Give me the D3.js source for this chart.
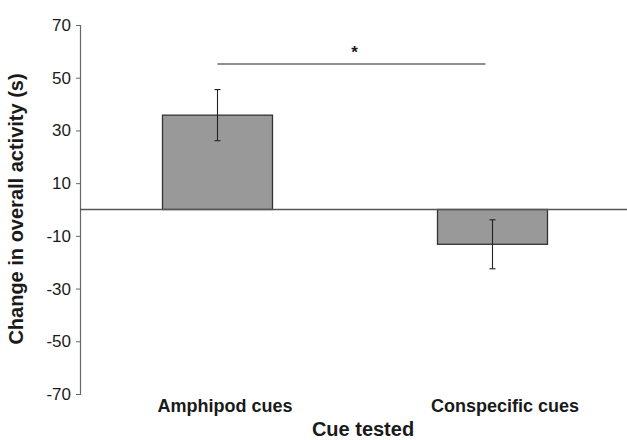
<!DOCTYPE html>
<html>
<head>
<meta charset="utf-8">
<script src="https://cdn.jsdelivr.net/npm/d3@7"></script>
<style>
  body { margin: 0; background: #fff; }
  text { font-family: "Liberation Sans", Arial, sans-serif; fill: #1a1a1a; }
</style>
</head>
<body>
<svg id="chart" width="627" height="440"></svg>
<script>
// data
const categories = ["Amphipod cues", "Conspecific cues"];
const means = [35.8, -13.2];
const errors = [9.7, 9.3];
const yTicks = [70, 50, 30, 10, -10, -30, -50, -70];

const svg = d3.select("#chart");

const x = d3.scaleBand()
  .domain(categories)
  .range([80, 630])
  .paddingInner(0.6)
  .paddingOuter(0.3);

// category labels sit a little right of the bar centres in the original
const xLabel = d3.scalePoint().domain(categories).range([225, 505]);

const y = d3.scaleLinear().domain([-70, 70]).range([394, 25]);

// y axis
const yAxis = svg.append("g")
  .attr("transform", "translate(80,0)")
  .call(d3.axisLeft(y).tickValues(yTicks).tickFormat(d => String(d)).tickSize(4).tickPadding(5));
yAxis.select(".domain").attr("stroke", "#666").attr("stroke-width", 1.2);
yAxis.selectAll(".tick line").attr("stroke", "#666");
yAxis.selectAll(".tick text")
  .style("font-size", "17px")
  .attr("fill", "#1a1a1a");

// bars
svg.selectAll(".bar")
  .data(categories)
  .enter()
  .append("rect")
  .attr("class", "bar")
  .attr("x", d => x(d))
  .attr("width", x.bandwidth())
  .attr("y", (d, i) => y(Math.max(0, means[i])))
  .attr("height", (d, i) => Math.abs(y(means[i]) - y(0)))
  .attr("fill", "#999999")
  .attr("stroke", "#333")
  .attr("stroke-width", 1.3);

// zero line
svg.append("line")
  .attr("x1", 80).attr("x2", 627)
  .attr("y1", y(0)).attr("y2", y(0))
  .attr("stroke", "#555")
  .attr("stroke-width", 1.4);

// error bars
const eb = svg.selectAll(".err")
  .data(categories)
  .enter()
  .append("g")
  .attr("class", "err")
  .attr("stroke", "#222")
  .attr("stroke-width", 1.1);
const cx = d => x(d) + x.bandwidth() / 2;
eb.append("line")
  .attr("x1", cx).attr("x2", cx)
  .attr("y1", (d, i) => y(means[i] + errors[i]))
  .attr("y2", (d, i) => y(means[i] - errors[i]));
eb.append("line")
  .attr("x1", d => cx(d) - 3).attr("x2", d => cx(d) + 3)
  .attr("y1", (d, i) => y(means[i] + errors[i]))
  .attr("y2", (d, i) => y(means[i] + errors[i]));
eb.append("line")
  .attr("x1", d => cx(d) - 3).attr("x2", d => cx(d) + 3)
  .attr("y1", (d, i) => y(means[i] - errors[i]))
  .attr("y2", (d, i) => y(means[i] - errors[i]));

// significance bracket
const sigY = y(55.2);
svg.append("line")
  .attr("x1", cx(categories[0])).attr("x2", cx(categories[1]) - 7)
  .attr("y1", sigY).attr("y2", sigY)
  .attr("stroke", "#222")
  .attr("stroke-width", 1.2);
svg.append("text")
  .attr("x", (cx(categories[0]) + cx(categories[1]) - 7) / 2 + 3)
  .attr("y", sigY - 6)
  .attr("text-anchor", "middle")
  .style("font-size", "17px")
  .style("font-weight", "bold")
  .text("*");

// category labels
svg.selectAll(".cat")
  .data(categories)
  .enter()
  .append("text")
  .attr("class", "cat")
  .attr("x", d => xLabel(d))
  .attr("y", 412)
  .attr("text-anchor", "middle")
  .style("font-size", "18px")
  .style("font-weight", "bold")
  .text(d => d);

// axis titles
svg.append("text")
  .attr("x", 363)
  .attr("y", 436)
  .attr("text-anchor", "middle")
  .style("font-size", "20px")
  .style("font-weight", "bold")
  .text("Cue tested");

svg.append("text")
  .attr("transform", "translate(23,209) rotate(-90)")
  .attr("text-anchor", "middle")
  .style("font-size", "20px")
  .style("font-weight", "bold")
  .text("Change in overall activity (s)");
</script>
</body>
</html>
